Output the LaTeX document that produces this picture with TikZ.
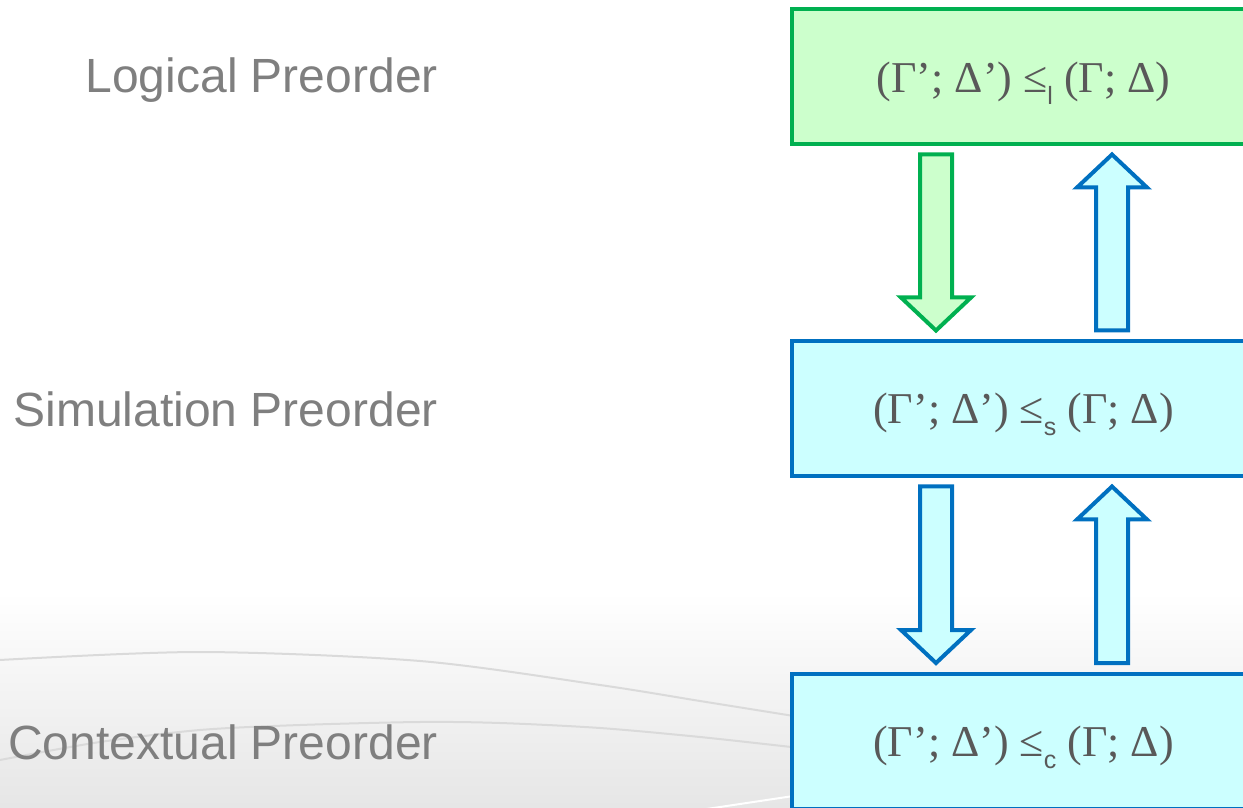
\documentclass[tikz,border=0pt]{standalone}
\usepackage{fontspec}
\setmainfont{Liberation Serif}
\setsansfont{Liberation Sans}
\usetikzlibrary{calc}

\definecolor{lgreen}{HTML}{CCFFCC}
\definecolor{dgreen}{HTML}{00B050}
\definecolor{lcyan}{HTML}{CCFFFF}
\definecolor{dblue}{HTML}{0070C0}
\definecolor{labelgray}{HTML}{7F7F7F}
\definecolor{textgray}{HTML}{595959}
\definecolor{curvegray}{HTML}{DADADA}
\definecolor{floorgray}{HTML}{E6E6E6}

% lowered sans-serif index of the preorder symbol
\newcommand\relsub[1]{\raisebox{-12pt}{\fontsize{25}{25}\selectfont\sffamily #1}}

% block arrow: #1 style, #2 tail coordinate, #3 tip coordinate
\newcommand\fatarrow[3]{%
  \coordinate (hb) at ($(#3)!33pt!(#2)$);
  \draw[#1] ($(#2)!16pt!90:(#3)$) -- ($(hb)!16pt!90:(#3)$) -- ($(hb)!35pt!90:(#3)$)
    -- (#3) -- ($(hb)!35pt!-90:(#3)$) -- ($(hb)!16pt!-90:(#3)$)
    -- ($(#2)!16pt!-90:(#3)$) -- cycle;}

\tikzset{
  relbox/.style={rectangle, minimum width=463pt, minimum height=135pt,
    line width=4pt, inner sep=0pt, outer sep=0pt, text=textgray,
    font=\fontsize{44}{50}\selectfont, text height=35pt, text depth=4pt},
  greenbox/.style={relbox, draw=dgreen, fill=lgreen},
  bluebox/.style={relbox, draw=dblue, fill=lcyan},
  lab/.style={font=\sffamily\fontsize{48}{56}\selectfont, text=labelgray,
    inner sep=0pt, anchor=base east},
  greenarrow/.style={draw=dgreen, fill=lgreen, line width=4pt},
  bluearrow/.style={draw=dblue, fill=lcyan, line width=4pt},
  bgcurve/.style={draw=curvegray, line width=2pt}
}

\begin{document}
\begin{tikzpicture}[x=1pt, y=1pt]
\useasboundingbox (0,0) rectangle (1243,807);
\clip (0,0) rectangle (1243,807);

% soft grey floor with swooshes
\fill[top color=white, bottom color=floorgray] (0,0) rectangle (1243,215);
\draw[bgcurve] plot[smooth] coordinates {(0,147) (200,155) (420,146) (600,122) (700,106) (800,90)};
\draw[bgcurve] plot[smooth] coordinates {(0,47) (100,65) (200,77) (300,82) (420,85) (500,84) (600,79) (700,70) (800,59)};
\draw[white, line width=2pt] (700,-3) -- (800,12);

% the three preorders
\node[greenbox] (logical) at (1023.5,730) {(Γ’; Δ’) ≤\relsub{l} (Γ; Δ)};
\node[bluebox] (simulation) at (1023.5,398.5) {(Γ’; Δ’) ≤\relsub{s} (Γ; Δ)};
\node[bluebox] (contextual) at (1023.5,66) {(Γ’; Δ’) ≤\relsub{c} (Γ; Δ)};

\node[lab] (lablogical) at (438,714) {Logical Preorder};
\node[lab] (labsimulation) at (438,380) {Simulation Preorder};
\node[lab] (labcontextual) at (438,48) {Contextual Preorder};

% implications between the preorders
\coordinate (d1t) at ($(logical.south west)+(144,-10)$);
\coordinate (d1h) at ($(simulation.north west)+(144,10.5)$);
\coordinate (u1t) at ($(simulation.north west)+(320,10.5)$);
\coordinate (u1h) at ($(logical.south west)+(320,-10)$);
\coordinate (d2t) at ($(simulation.south west)+(144,-10.5)$);
\coordinate (d2h) at ($(contextual.north west)+(144,10.5)$);
\coordinate (u2t) at ($(contextual.north west)+(320,10.5)$);
\coordinate (u2h) at ($(simulation.south west)+(320,-10.5)$);

\fatarrow{greenarrow}{d1t}{d1h}
\fatarrow{bluearrow}{u1t}{u1h}
\fatarrow{bluearrow}{d2t}{d2h}
\fatarrow{bluearrow}{u2t}{u2h}
\end{tikzpicture}
\end{document}
